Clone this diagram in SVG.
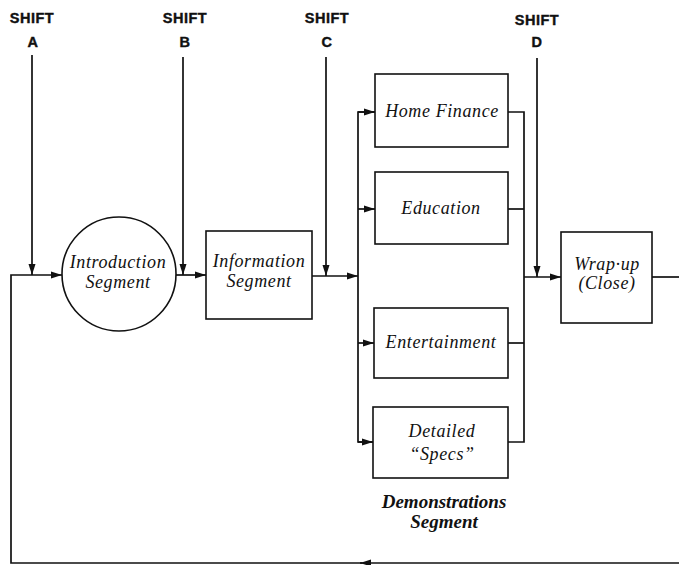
<svg xmlns="http://www.w3.org/2000/svg" width="679" height="565" viewBox="0 0 679 565">
<style>
.bg{fill:#fff}
.box{fill:#fff;stroke:#111;stroke-width:1.6}
.ln{fill:none;stroke:#111;stroke-width:1.7}
.arr{marker-end:url(#ah)}
.lbl{font-family:"Liberation Serif","Times New Roman",serif;font-style:italic;font-size:18px;fill:#111;text-anchor:middle;letter-spacing:0.6px}
.sh{font-family:"Liberation Sans",Arial,sans-serif;font-weight:900;font-size:14.5px;fill:#111;text-anchor:middle;letter-spacing:0.5px;stroke:#111;stroke-width:0.4}
.seg{font-family:"Liberation Serif","Times New Roman",serif;font-style:italic;font-weight:bold;font-size:19px;fill:#111;text-anchor:middle}
</style>
<defs>
<marker id="ah" markerUnits="userSpaceOnUse" markerWidth="12" markerHeight="8" refX="11" refY="4" orient="auto">
<path d="M0,0.5 L11,4 L0,7.5 z" fill="#111"/>
</marker>
</defs>
<rect class="bg" x="0" y="0" width="679" height="565"/>
<g id="shift-labels">
<text class="sh" x="32" y="23">SHIFT</text>
<text class="sh" x="33" y="47">A</text>
<text class="sh" x="185" y="23">SHIFT</text>
<text class="sh" x="185" y="47">B</text>
<text class="sh" x="327" y="23">SHIFT</text>
<text class="sh" x="327" y="47">C</text>
<text class="sh" x="537" y="25">SHIFT</text>
<text class="sh" x="537" y="47">D</text>
</g>
<g id="connectors">
<line class="ln arr" x1="679" y1="563" x2="360" y2="563"/>
<path class="ln arr" d="M362,563 L11,563 L11,275 L62,275"/>
<line class="ln arr" x1="32" y1="55" x2="32" y2="275"/>
<line class="ln arr" x1="183" y1="57" x2="183" y2="275"/>
<line class="ln arr" x1="176" y1="275" x2="206" y2="275"/>
<line class="ln arr" x1="326" y1="57" x2="326" y2="276"/>
<line class="ln arr" x1="312" y1="276" x2="358" y2="276"/>
<path class="ln" d="M375,112 L358,112 L358,442 L373,442"/>
<line class="ln arr" x1="358" y1="112" x2="375" y2="112"/>
<line class="ln arr" x1="358" y1="209" x2="375" y2="209"/>
<line class="ln arr" x1="358" y1="343" x2="374" y2="343"/>
<line class="ln arr" x1="358" y1="442" x2="373" y2="442"/>
<path class="ln" d="M508,112 L524,112 L524,442 L508,442"/>
<line class="ln" x1="508" y1="209" x2="524" y2="209"/>
<line class="ln" x1="508" y1="343" x2="524" y2="343"/>
<line class="ln arr" x1="524" y1="277" x2="561" y2="277"/>
<line class="ln arr" x1="537" y1="58" x2="537" y2="277"/>
<line class="ln" x1="652" y1="277" x2="679" y2="277"/>
</g>
<g id="introduction">
<circle class="box" cx="119" cy="274" r="57"/>
<text class="lbl" x="118" y="268">Introduction</text>
<text class="lbl" x="118" y="288">Segment</text>
</g>
<g id="information">
<rect class="box" x="206" y="231" width="106" height="88"/>
<text class="lbl" x="259" y="267">Information</text>
<text class="lbl" x="259" y="287">Segment</text>
</g>
<g id="home-finance">
<rect class="box" x="375" y="74" width="133" height="73"/>
<text class="lbl" x="442" y="117">Home Finance</text>
</g>
<g id="education">
<rect class="box" x="375" y="172" width="133" height="72"/>
<text class="lbl" x="441" y="214">Education</text>
</g>
<g id="entertainment">
<rect class="box" x="374" y="308" width="134" height="70"/>
<text class="lbl" x="441" y="348">Entertainment</text>
</g>
<g id="detailed-specs">
<rect class="box" x="373" y="407" width="135" height="71"/>
<text class="lbl" x="442" y="437">Detailed</text>
<text class="lbl" x="442" y="460">“Specs”</text>
</g>
<g id="demonstrations-label">
<text class="seg" x="444" y="508">Demonstrations</text>
<text class="seg" x="444" y="528">Segment</text>
</g>
<g id="wrap-up">
<rect class="box" x="561" y="232" width="91" height="91"/>
<text class="lbl" x="607" y="270">Wrap·up</text>
<text class="lbl" x="607" y="289">(Close)</text>
</g>
</svg>
